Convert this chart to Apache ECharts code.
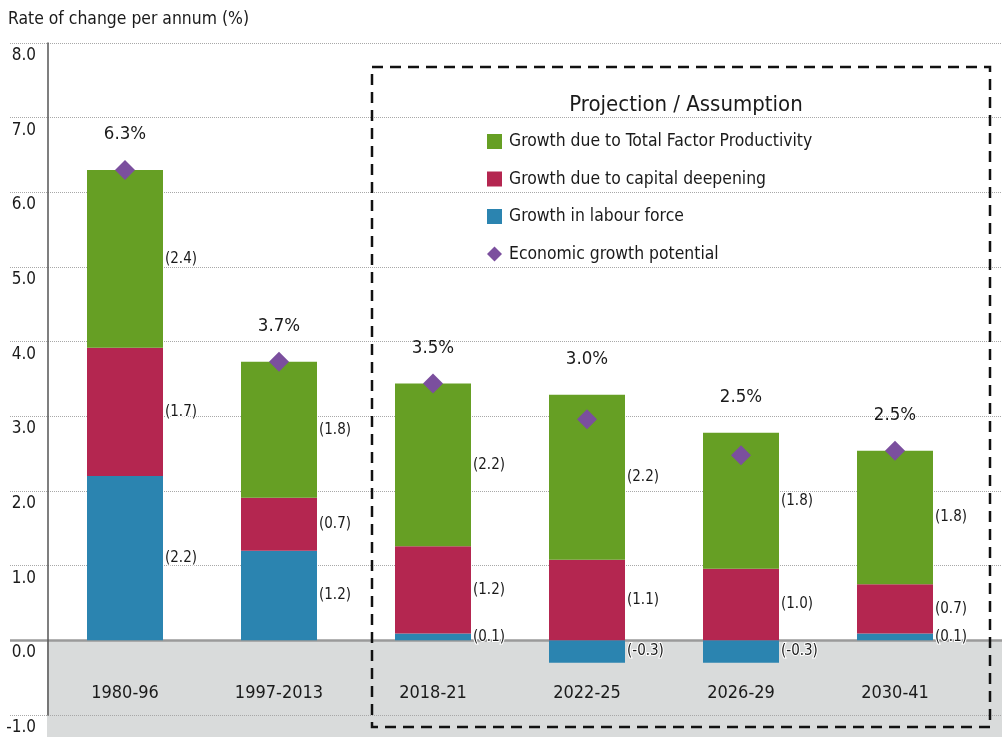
<!DOCTYPE html>
<html>
<head>
<meta charset="utf-8">
<script src="https://cdn.jsdelivr.net/npm/echarts@6/dist/echarts.min.js"></script>
<style>
  html, body { margin: 0; padding: 0; background: #fff; }
  #chart { width: 1002px; height: 737px; }
</style>
</head>
<body>
<div id="chart"></div>
<script>
// periods
var periods = ['1980-96', '1997-2013', '2018-21', '2022-25', '2026-29', '2030-41'];
// contributions (% per annum)
var labour = [2.2, 1.2, 0.09, -0.3, -0.3, 0.09];
var capital = [1.72, 0.71, 1.17, 1.08, 0.96, 0.66];
var tfp = [2.38, 1.82, 2.18, 2.21, 1.82, 1.79];
// economic growth potential
var potential = [6.3, 3.73, 3.44, 2.96, 2.48, 2.54];
var potentialLabels = ['6.3%', '3.7%', '3.5%', '3.0%', '2.5%', '2.5%'];
var totalPad = [0, 0, 0, 0, 0, 0];

var FONT = "'DejaVu Sans Condensed', 'Liberation Sans', sans-serif";
var TXT = '#1a1a1a';

var names = {
    tfp: 'Growth due to Total Factor Productivity',
    cap: 'Growth due to capital deepening',
    lab: 'Growth in labour force',
    pot: 'Economic growth potential'
};

function segLabel() {
    return {
        show: true,
        position: 'right',
        distance: 2,
        fontFamily: FONT,
        fontSize: 15,
        color: TXT,
        textBorderColor: '#fff',
        textBorderWidth: 2,
        formatter: function (p) { return '(' + p.value.toFixed(1) + ')'; }
    };
}

var chart = echarts.init(document.getElementById('chart'));

var option = {
    animation: false,
    textStyle: { fontFamily: FONT },
    title: [{
        text: 'Rate of change per annum (%)',
        left: 3, top: 6,
        textStyle: { fontFamily: FONT, fontSize: 17.4, fontWeight: 'normal', color: TXT }
    }, {
        text: 'Projection / Assumption',
        left: 681, top: 89, textAlign: 'center',
        textStyle: { fontFamily: FONT, fontSize: 22, fontWeight: 'normal', color: TXT }
    }],
    legend: {
        orient: 'vertical',
        left: 487, top: 133, padding: 0,
        itemWidth: 15, itemHeight: 15, itemGap: 20.5,
        textStyle: { fontFamily: FONT, fontSize: 17.4, color: TXT, padding: [0, 0, 0, 2] },
        data: [
            { name: names.tfp, icon: 'rect' },
            { name: names.cap, icon: 'rect' },
            { name: names.lab, icon: 'rect' },
            { name: names.pot, icon: 'diamond' }
        ]
    },
    grid: [
        { left: 48, right: 30, top: 43, bottom: 22, outerBoundsMode: 'none' },  // bars
        { left: 10, right: 0, top: 43, bottom: 22, outerBoundsMode: 'none' },   // gridlines
        { left: 47, right: 0, top: 43, bottom: 0, outerBoundsMode: 'none' }     // grey band below zero
    ],
    xAxis: [{
        type: 'category', gridIndex: 0, data: periods, z: 8, position: 'bottom',
        axisLine: { show: false, onZero: false },
        axisTick: { show: false },
        axisLabel: { inside: true, margin: 13, fontFamily: FONT, fontSize: 18, color: TXT }
    }, {
        type: 'value', gridIndex: 1, min: 0, max: 1, show: false
    }, {
        type: 'value', gridIndex: 2, min: 0, max: 1, show: false
    }],
    yAxis: [{
        type: 'value', gridIndex: 0, min: -1, max: 8, interval: 1, z: 8,
        splitLine: { show: false },
        axisLine: { show: true, lineStyle: { color: '#555', width: 1.5 } },
        axisTick: { show: false },
        axisLabel: {
            fontFamily: FONT, fontSize: 17, color: TXT, margin: 12,
            verticalAlign: 'top', padding: [4, 0, 0, 0],
            formatter: function (v) { return v.toFixed(1); }
        }
    }, {
        type: 'value', gridIndex: 1, min: -1, max: 8, interval: 1,
        axisLine: { show: false }, axisTick: { show: false }, axisLabel: { show: false },
        splitLine: { show: true, lineStyle: { color: '#a8a8a8', type: 'dotted', width: 1 } }
    }, {
        type: 'value', gridIndex: 2, min: -1.3, max: 8, show: false, splitLine: { show: false }
    }],
    series: [{
        type: 'line', xAxisIndex: 2, yAxisIndex: 2, data: [], silent: true, z: -1,
        markArea: {
            silent: true, z: -1,
            itemStyle: { color: '#d9dbdb' },
            data: [[{ xAxis: 0, yAxis: 0 }, { xAxis: 1, yAxis: -1.3 }]]
        }
    }, {
        type: 'line', xAxisIndex: 1, yAxisIndex: 1, data: [], silent: true, z: 1,
        markLine: {
            silent: true, symbol: 'none', label: { show: false }, z: 1,
            lineStyle: { color: '#9a9a9a', type: 'solid', width: 2.5 },
            data: [{ yAxis: 0 }]
        }
    }, {
        name: names.lab, type: 'bar', stack: 'g', barWidth: 76, z: 3,
        itemStyle: { color: '#2b84b0' },
        label: segLabel(),
        data: labour
    }, {
        name: names.cap, type: 'bar', stack: 'g', barWidth: 76, z: 3,
        itemStyle: { color: '#b42650' },
        label: segLabel(),
        data: capital
    }, {
        name: names.tfp, type: 'bar', stack: 'g', barWidth: 76, z: 3,
        itemStyle: { color: '#669f24' },
        label: segLabel(),
        data: tfp
    }, {
        name: 'total', type: 'bar', stack: 'g', barWidth: 76, z: 3, silent: true,
        itemStyle: { color: 'transparent' },
        label: {
            show: true, position: 'top', distance: 26,
            fontFamily: FONT, fontSize: 18.5, color: TXT,
            formatter: function (p) { return potentialLabels[p.dataIndex]; }
        },
        data: totalPad
    }, {
        name: names.pot, type: 'scatter', z: 5,
        symbol: 'diamond', symbolSize: 20,
        itemStyle: { color: '#7b4f9e', opacity: 1 },
        data: potential
    }],
    graphic: [{
        type: 'rect', z: 10, silent: true,
        shape: { x: 372, y: 67, width: 618, height: 660 },
        style: { fill: 'none', stroke: '#111', lineWidth: 2.5, lineDash: [11, 7] }
    }]
};

chart.setOption(option);

window.addEventListener('resize', function () {
    chart.resize();
});
</script>
</body>
</html>
